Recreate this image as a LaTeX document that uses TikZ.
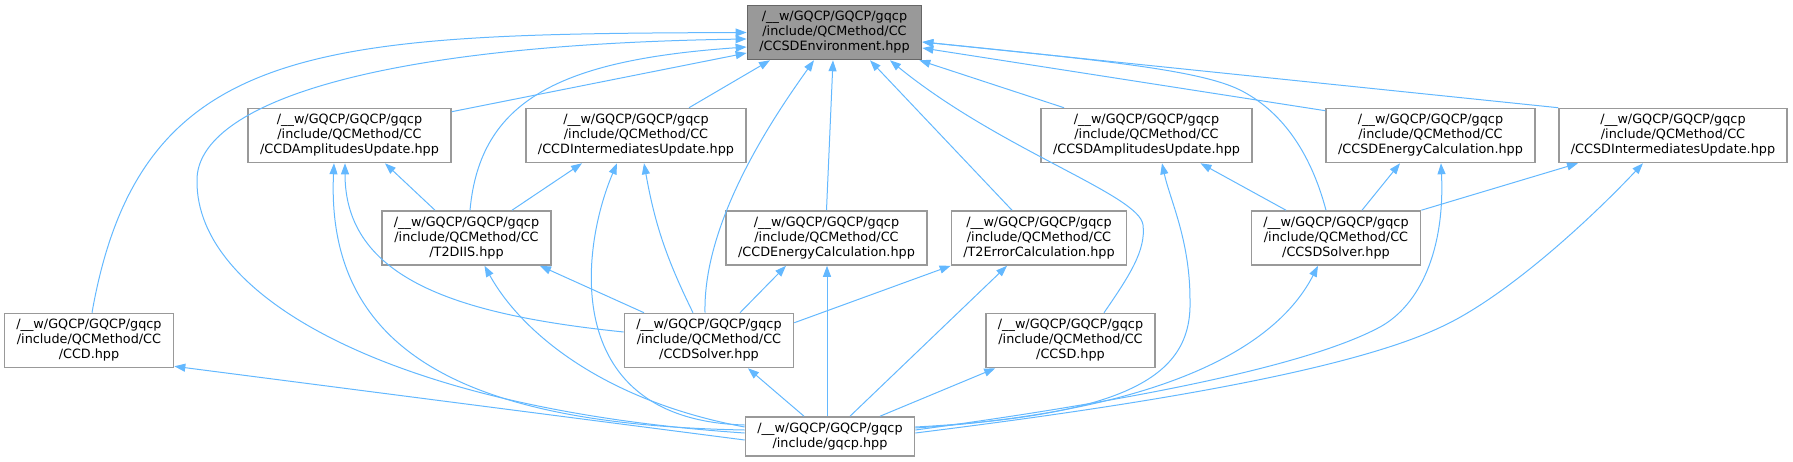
\documentclass[tikz,border=0pt]{standalone}
\usepackage{fontspec}
\setmainfont{DejaVu Sans}
\usetikzlibrary{positioning,arrows.meta}
\definecolor{edgeblue}{HTML}{63B8FF}
\definecolor{boxgray}{HTML}{999999}
\definecolor{boxdark}{HTML}{666666}

\begin{document}
\begin{tikzpicture}[x=1pt,y=-1pt,on grid,
	hdr/.style={draw=boxgray,fill=white,line width=1.4pt,align=center,inner xsep=12pt,inner ysep=6pt,
		font=\fontsize{12.8}{15}\selectfont},
	cur/.style={hdr,draw=boxdark,fill=boxgray},
	inc/.style={edgeblue,line width=1pt,-{Triangle[length=11pt,width=8pt]}}]
			\useasboundingbox (0,0) rectangle (1793,461);
			\node[cur] (root) at (834.5,32.5) {/\_\_w/GQCP/GQCP/gqcp\\/include/QCMethod/CC\\/CCSDEnvironment.hpp};
			\node[hdr] (ccdamp) [below left=103pt and 485pt of root] {/\_\_w/GQCP/GQCP/gqcp\\/include/QCMethod/CC\\/CCDAmplitudesUpdate.hpp};
			\node[hdr] (ccdint) [right=286.5pt of ccdamp] {/\_\_w/GQCP/GQCP/gqcp\\/include/QCMethod/CC\\/CCDIntermediatesUpdate.hpp};
			\node[hdr] (ccsdamp) [right=510.5pt of ccdint] {/\_\_w/GQCP/GQCP/gqcp\\/include/QCMethod/CC\\/CCSDAmplitudesUpdate.hpp};
			\node[hdr] (ccsden) [right=284pt of ccsdamp] {/\_\_w/GQCP/GQCP/gqcp\\/include/QCMethod/CC\\/CCSDEnergyCalculation.hpp};
			\node[hdr] (ccsdint) [right=242.5pt of ccsden] {/\_\_w/GQCP/GQCP/gqcp\\/include/QCMethod/CC\\/CCSDIntermediatesUpdate.hpp};
			\node[hdr] (t2diis) [below right=102.5pt and 117pt of ccdamp] {/\_\_w/GQCP/GQCP/gqcp\\/include/QCMethod/CC\\/T2DIIS.hpp};
			\node[hdr] (ccden) [right=360pt of t2diis] {/\_\_w/GQCP/GQCP/gqcp\\/include/QCMethod/CC\\/CCDEnergyCalculation.hpp};
			\node[hdr] (t2err) [right=212.5pt of ccden] {/\_\_w/GQCP/GQCP/gqcp\\/include/QCMethod/CC\\/T2ErrorCalculation.hpp};
			\node[hdr] (ccsdsolver) [right=297pt of t2err] {/\_\_w/GQCP/GQCP/gqcp\\/include/QCMethod/CC\\/CCSDSolver.hpp};
			\node[hdr] (ccdsolver) [below right=102.5pt and 242.5pt of t2diis] {/\_\_w/GQCP/GQCP/gqcp\\/include/QCMethod/CC\\/CCDSolver.hpp};
			\node[hdr] (ccd) [left=620pt of ccdsolver] {/\_\_w/GQCP/GQCP/gqcp\\/include/QCMethod/CC\\/CCD.hpp};
			\node[hdr] (ccsd) [right=361.5pt of ccdsolver] {/\_\_w/GQCP/GQCP/gqcp\\/include/QCMethod/CC\\/CCSD.hpp};
			\node[hdr] (gqcp) [below right=96pt and 121pt of ccdsolver] {/\_\_w/GQCP/GQCP/gqcp\\/include/gqcp.hpp};
			% straight includes
			\path[inc]
			([yshift=-4pt]ccdamp.north east) edge ([yshift=-20.5pt]root.west)
			([xshift=53pt]ccdint.north) edge ([xshift=-64.5pt]root.south)
			(ccden.north) edge ([xshift=-1.5pt]root.south)
			([xshift=-27pt]t2err.north) edge ([xshift=35.5pt]root.south)
			([xshift=-82.5pt]ccsdamp.north) edge ([xshift=-3pt]root.south east)
			([yshift=-3pt]ccsden.north west) edge ([yshift=-15.5pt]root.east)
			(ccsdint.north west) edge ([yshift=-9.5pt]root.east)
			([xshift=-31.5pt]t2diis.north) edge ([xshift=35.5pt]ccdamp.south)
			([xshift=45.5pt]t2diis.north) edge ([xshift=-54pt]ccdint.south)
			([xshift=-65pt]ccdsolver.north) edge ([xshift=73.5pt]t2diis.south)
			([xshift=31pt]ccdsolver.north) edge ([xshift=-40.5pt]ccden.south)
			([xshift=-16pt]ccdsolver.north) edge [bend left=8] ([xshift=8pt]ccdint.south)
			([xshift=-3pt]gqcp.north) edge ([xshift=0.5pt]ccden.south)
			([yshift=-10pt]ccdsolver.north east) edge (t2err.south west)
			([xshift=20pt]gqcp.north) edge ([xshift=-32pt]t2err.south)
			([xshift=50pt]gqcp.north) edge ([xshift=10pt]ccsd.south west)
			([xshift=-26pt]gqcp.north) edge ([xshift=39pt]ccdsolver.south)
			([yshift=-3.5pt]gqcp.west) edge ([yshift=2pt]ccd.south east)
			([xshift=-50pt]ccsdsolver.north) edge ([xshift=54pt]ccsdamp.south)
			([xshift=26pt]ccsdsolver.north) edge ([xshift=-30.5pt]ccsden.south)
			(ccsdsolver.north east) edge ([xshift=-95pt]ccsdint.south);
			% curved includes
			\draw[inc] ([xshift=3pt]ccd.north) .. controls (140,40) and (320,34) .. (root.west);
			\draw[inc] ([yshift=3.5pt]gqcp.west) .. controls (400,410) and (195,300) .. (197,180) .. controls (197,110) and (350,45) .. ([yshift=-6.5pt]root.west);
			\draw[inc] ([xshift=3.5pt]t2diis.north) .. controls (480,100) and (560,60) .. ([yshift=-14.5pt]root.west);
			\draw[inc] ([xshift=-4pt]ccdsolver.north) .. controls (703,220) and (775,115) .. ([xshift=-20.5pt]root.south);
			\draw[inc] ([xshift=33.5pt]ccsd.north) .. controls (1130,275) and (1146,250) .. (1143,225) .. controls (1140,195) and (1000,150) .. ([xshift=55.5pt]root.south);
			\draw[inc] ([xshift=-10pt]ccsdsolver.north) .. controls (1310,150) and (1280,110) .. (1240,90) .. controls (1200,70) and (1100,60) .. ([yshift=-9.5pt]root.east);
			\draw[inc] ([yshift=6.5pt]gqcp.west) .. controls (480,425) and (325,360) .. ([xshift=-15.5pt]ccdamp.south);
			\draw[inc] ([yshift=8.5pt]ccdsolver.west) .. controls (460,315) and (345,280) .. ([xshift=-4.5pt]ccdamp.south);
			\draw[inc] ([yshift=9.5pt]gqcp.west) .. controls (600,400) and (520,330) .. ([xshift=18pt]t2diis.south);
			\draw[inc] ([yshift=11.5pt]gqcp.west) .. controls (560,420) and (580,250) .. ([xshift=-19pt]ccdint.south);
			\draw[inc] ([yshift=9.5pt]gqcp.east) .. controls (1140,415) and (1192,370) .. (1190,300) .. controls (1190,240) and (1170,200) .. ([xshift=15.5pt]ccsdamp.south);
			\draw[inc] ([yshift=8.5pt]gqcp.east) .. controls (1180,410) and (1280,340) .. ([xshift=-18pt]ccsdsolver.south);
			\draw[inc] ([yshift=6.5pt]gqcp.east) .. controls (1100,405) and (1300,370) .. (1380,327) .. controls (1420,305) and (1445,250) .. ([xshift=10.5pt]ccsden.south);
			\draw[inc] ([yshift=3.5pt]gqcp.east) .. controls (1100,410) and (1340,375) .. (1441,327) .. controls (1500,300) and (1580,230) .. ([xshift=-30pt]ccsdint.south);
		\end{tikzpicture}
\end{document}
